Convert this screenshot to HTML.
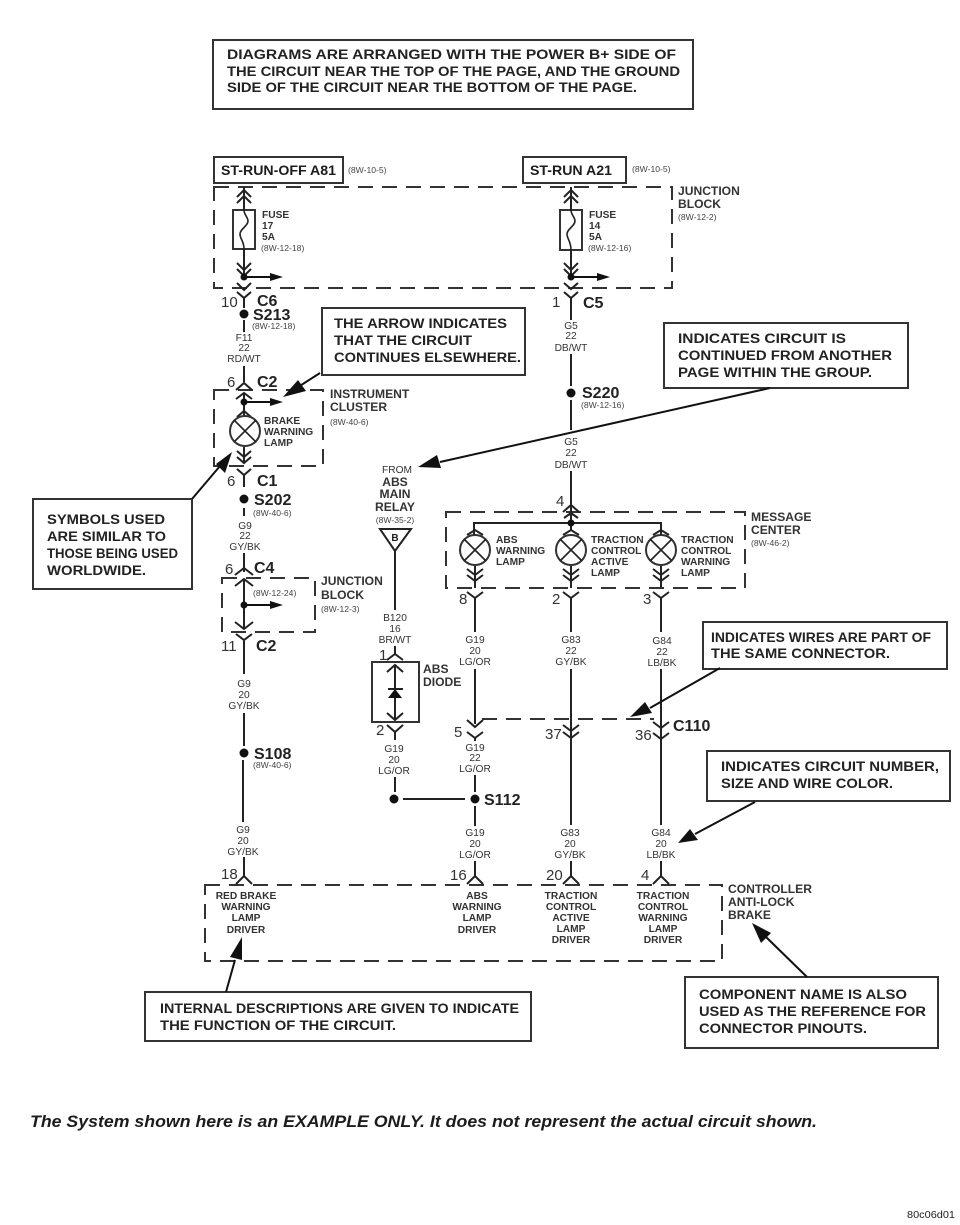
<!DOCTYPE html>
<html><head><meta charset="utf-8"><style>
html,body{margin:0;padding:0;background:#fff}
svg{display:block}
text{font-family:"Liberation Sans",sans-serif;fill:#1c1c1c}
.b{font-weight:bold}
.c{font-size:14.2px;font-weight:bold;fill:#222}
.s{font-size:8.6px;fill:#444}
.w{font-size:10.2px;text-anchor:middle;fill:#333}
.l{font-size:10.2px;font-weight:bold;fill:#333}
.m{text-anchor:middle}
.n{font-size:15px;fill:#333}
.cn{font-size:16px;font-weight:bold;fill:#222}
.t{font-size:12.1px;font-weight:bold;fill:#333}
.k{fill:none;stroke:#222;stroke-width:2}
.f{fill:none;stroke:#222;stroke-width:1.6}
.d{fill:none;stroke:#333;stroke-width:2;stroke-dasharray:15 9}
.x{fill:#fff;stroke:#333;stroke-width:2}
.a{fill:none;stroke:#111;stroke-width:2}
</style></head><body>
<svg width="960" height="1225" viewBox="0 0 960 1225" xmlns="http://www.w3.org/2000/svg">
<!-- callout boxes -->
<rect class="x" x="213" y="40" width="480" height="69"/>
<text class="c" x="227" y="59" textLength="449" lengthAdjust="spacingAndGlyphs">DIAGRAMS ARE ARRANGED WITH THE POWER B+ SIDE OF</text>
<text class="c" x="227" y="76" textLength="453" lengthAdjust="spacingAndGlyphs">THE CIRCUIT NEAR THE TOP OF THE PAGE, AND THE GROUND</text>
<text class="c" x="227" y="92" textLength="410" lengthAdjust="spacingAndGlyphs">SIDE OF THE CIRCUIT NEAR THE BOTTOM OF THE PAGE.</text>

<rect class="x" x="214" y="157" width="129" height="26"/>
<text x="221" y="175" font-size="14" class="b" textLength="115" lengthAdjust="spacingAndGlyphs">ST-RUN-OFF A81</text>
<rect class="x" x="523" y="157" width="103" height="26"/>
<text x="530" y="175" font-size="14" class="b" textLength="82" lengthAdjust="spacingAndGlyphs">ST-RUN A21</text>
<text class="s" x="348" y="173">(8W-10-5)</text>
<text class="s" x="632" y="172">(8W-10-5)</text>

<!-- dashed blocks -->
<rect class="d" x="214" y="187" width="458" height="101"/>
<rect class="d" x="214" y="390" width="109" height="76"/>
<rect class="d" x="222" y="578" width="93" height="54"/>
<rect class="d" x="446" y="512" width="299" height="76"/>
<rect class="d" x="205" y="885" width="517" height="76"/>
<path d="M482 719H654" class="d"/>

<text class="t" x="678" y="195">JUNCTION</text><text class="t" x="678" y="208">BLOCK</text><text class="s" x="678" y="220">(8W-12-2)</text>
<text class="t" x="330" y="398">INSTRUMENT</text><text class="t" x="330" y="411">CLUSTER</text><text class="s" x="330" y="425">(8W-40-6)</text>
<text class="t" x="751" y="521">MESSAGE</text><text class="t" x="751" y="534">CENTER</text><text class="s" x="751" y="546">(8W-46-2)</text>
<text class="t" x="321" y="585">JUNCTION</text><text class="t" x="321" y="599">BLOCK</text><text class="s" x="321" y="612">(8W-12-3)</text>
<text class="s" x="253" y="596">(8W-12-24)</text>
<text class="t" x="728" y="893">CONTROLLER</text><text class="t" x="728" y="906">ANTI-LOCK</text><text class="t" x="728" y="919">BRAKE</text>

<!-- left column wires -->
<path class="k" d="M244 187V278M237 197L244 190L251 197M237 203L244 196L251 203
M237 263L244 270L251 263M237 269L244 276L251 269M237 283L244 290L251 283
M237 292L244 298L251 292M244 298V308M244 320V332M244 366V382
M236 390L244 383L252 390M236 399L244 393L252 399M244 393V416M237 417L244 411L251 417
M244 447V463M237 451L244 457L251 451M237 457L244 463L251 457M237 469L244 475L251 469M244 475V487M244 508V516
M244 553V572M235 575L244 568L253 575M235 586L244 579L253 586M244 579V629M235 622L244 629L253 622M236 634L244 640L252 634M244 640V674M244 713V746M243 760V822M244 857V876M236 884L244 876L252 884"/>
<rect class="x" x="233" y="210" width="22" height="39"/>
<path class="f" d="M244 210c0 5 4 7 4 11c0 5-8 8-8 13c0 5 4 7 4 15"/>
<path class="k" d="M244 187V210M244 249V278"/>
<circle cx="244" cy="277" r="3.5" fill="#111"/><path class="a" d="M244 277H270"/><path d="M270 273L283 277L270 281Z" fill="#111"/>
<circle cx="244" cy="402" r="3.5" fill="#111"/><path class="a" d="M244 402H270"/><path d="M270 398L283 402L270 406Z" fill="#111"/>
<circle class="x" cx="245" cy="431" r="15"/><path class="f" d="M234 420L256 442M256 420L234 442"/>
<circle cx="244" cy="605" r="3.5" fill="#111"/><path class="a" d="M244 605H270"/><path d="M270 601L283 605L270 609Z" fill="#111"/>
<circle cx="244" cy="314" r="4.5" fill="#111"/><circle cx="244" cy="499" r="4.5" fill="#111"/><circle cx="244" cy="753" r="4.5" fill="#111"/>

<text class="l" x="262" y="218">FUSE</text><text class="l" x="262" y="229">17</text><text class="l" x="262" y="240">5A</text><text class="s" x="261" y="251">(8W-12-18)</text>
<text class="n" x="221" y="307">10</text><text class="cn" x="257" y="306">C6</text>
<text class="cn" x="253" y="320">S213</text><text class="s" x="252" y="329">(8W-12-18)</text>
<text class="w" x="244" y="341">F11</text><text class="w" x="244" y="351">22</text><text class="w" x="244" y="362">RD/WT</text>
<text class="n" x="227" y="387">6</text><text class="cn" x="257" y="387">C2</text>
<text class="l" x="264" y="424">BRAKE</text><text class="l" x="264" y="435">WARNING</text><text class="l" x="264" y="446">LAMP</text>
<text class="n" x="227" y="486">6</text><text class="cn" x="257" y="486">C1</text>
<text class="cn" x="254" y="505">S202</text><text class="s" x="253" y="516">(8W-40-6)</text>
<text class="w" x="245" y="529">G9</text><text class="w" x="245" y="539">22</text><text class="w" x="245" y="550">GY/BK</text>
<text class="n" x="225" y="574">6</text><text class="cn" x="254" y="573">C4</text>
<text class="n" x="221" y="651">11</text><text class="cn" x="256" y="651">C2</text>
<text class="w" x="244" y="687">G9</text><text class="w" x="244" y="698">20</text><text class="w" x="244" y="709">GY/BK</text>
<text class="cn" x="254" y="759">S108</text><text class="s" x="253" y="768">(8W-40-6)</text>
<text class="w" x="243" y="833">G9</text><text class="w" x="243" y="844">20</text><text class="w" x="243" y="855">GY/BK</text>
<text class="n" x="221" y="879">18</text>

<!-- right fuse column -->
<path class="k" d="M571 187V278M564 197L571 190L578 197M564 203L571 196L578 203
M564 263L571 270L578 263M564 269L571 276L578 269M564 283L571 289L578 283M564 292L571 298L578 292M571 298V320M571 354V386M571 400V430M571 471V505
M563 512L571 505L579 512M564 518L571 513L578 518M571 505V530"/>
<rect class="x" x="560" y="210" width="22" height="40"/>
<path class="k" d="M571 187V210M571 250V278"/>
<path class="f" d="M571 210c0 5 4 7 4 11c0 5-8 8-8 13c0 5 4 7 4 16"/>
<circle cx="571" cy="277" r="3.5" fill="#111"/><path class="a" d="M571 277H597"/><path d="M597 273L610 277L597 281Z" fill="#111"/>
<circle cx="571" cy="393" r="4.5" fill="#111"/>
<text class="l" x="589" y="218">FUSE</text><text class="l" x="589" y="229">14</text><text class="l" x="589" y="240">5A</text><text class="s" x="588" y="251">(8W-12-16)</text>
<text class="n" x="552" y="307">1</text><text class="cn" x="583" y="308">C5</text>
<text class="w" x="571" y="329">G5</text><text class="w" x="571" y="339">22</text><text class="w" x="571" y="351">DB/WT</text>
<text class="cn" x="582" y="398">S220</text><text class="s" x="581" y="408">(8W-12-16)</text>
<text class="w" x="571" y="445">G5</text><text class="w" x="571" y="456">22</text><text class="w" x="571" y="468">DB/WT</text>
<text class="n" x="556" y="506">4</text>

<!-- message center -->
<path class="k" d="M474 537V523H661V537"/>
<circle cx="571" cy="523" r="3.5" fill="#111"/>
<path class="k" d="M467 535L475 530L483 535M563 535L571 530L579 535M653 535L661 530L669 535"/>
<circle class="x" cx="475" cy="550" r="15"/><path class="f" d="M464 539L486 561M486 539L464 561"/>
<circle class="x" cx="571" cy="550" r="15"/><path class="f" d="M560 539L582 561M582 539L560 561"/>
<circle class="x" cx="661" cy="550" r="15"/><path class="f" d="M650 539L672 561M672 539L650 561"/>
<path class="k" d="M475 566V588M467 569L475 575L483 569M467 575L475 581L483 575M467 592L475 598L483 592M475 598V632M475 669V724M467 720L475 727L483 720M467 732L475 738L483 732M475 738V741
M571 566V588M563 569L571 575L579 569M563 575L571 581L579 575M563 592L571 598L579 592M571 598V632M571 669V825M563 725L571 731L579 725M563 732L571 738L579 732
M661 566V588M653 569L661 575L669 569M653 575L661 581L669 575M653 592L661 598L669 592M661 598V632M661 669V825M653 722L661 728L669 722M653 733L661 739L669 733
M475 775V792M475 806V826M475 861V876M467 884L475 876L483 884M571 861V876M563 884L571 876L579 884M661 861V876M653 884L661 876L669 884"/>
<text class="l" x="496" y="543">ABS</text><text class="l" x="496" y="554">WARNING</text><text class="l" x="496" y="565">LAMP</text>
<text class="l" x="591" y="543">TRACTION</text><text class="l" x="591" y="554">CONTROL</text><text class="l" x="591" y="565">ACTIVE</text><text class="l" x="591" y="576">LAMP</text>
<text class="l" x="681" y="543">TRACTION</text><text class="l" x="681" y="554">CONTROL</text><text class="l" x="681" y="565">WARNING</text><text class="l" x="681" y="576">LAMP</text>
<text class="n" x="459" y="604">8</text><text class="n" x="552" y="604">2</text><text class="n" x="643" y="604">3</text>
<text class="w" x="475" y="643">G19</text><text class="w" x="475" y="654">20</text><text class="w" x="475" y="665">LG/OR</text>
<text class="w" x="571" y="643">G83</text><text class="w" x="571" y="654">22</text><text class="w" x="571" y="665">GY/BK</text>
<text class="w" x="662" y="644">G84</text><text class="w" x="662" y="655">22</text><text class="w" x="662" y="666">LB/BK</text>
<text class="n" x="454" y="737">5</text><text class="n" x="545" y="739">37</text><text class="n" x="635" y="740">36</text>
<text class="cn" x="673" y="731">C110</text>
<text class="w" x="475" y="751">G19</text><text class="w" x="475" y="761">22</text><text class="w" x="475" y="772">LG/OR</text>
<text class="cn" x="484" y="805">S112</text>
<text class="w" x="475" y="836">G19</text><text class="w" x="475" y="847">20</text><text class="w" x="475" y="858">LG/OR</text>
<text class="w" x="570" y="836">G83</text><text class="w" x="570" y="847">20</text><text class="w" x="570" y="858">GY/BK</text>
<text class="w" x="661" y="836">G84</text><text class="w" x="661" y="847">20</text><text class="w" x="661" y="858">LB/BK</text>
<text class="n" x="450" y="880">16</text><text class="n" x="546" y="880">20</text><text class="n" x="641" y="880">4</text>

<!-- ABS column -->
<text class="w" x="397" y="473">FROM</text>
<text class="t m" x="395" y="486">ABS</text><text class="t m" x="395" y="498">MAIN</text><text class="t m" x="395" y="511">RELAY</text>
<text class="s m" x="395" y="523">(8W-35-2)</text>
<path class="k" d="M380 529H411L395 551Z"/>
<text class="b m" x="395" y="541" font-size="10">B</text>
<path class="k" d="M395 551V610M395 646V655M387 660L395 654L403 660"/>
<text class="w" x="395" y="621">B120</text><text class="w" x="395" y="632">16</text><text class="w" x="395" y="643">BR/WT</text>
<text class="n" x="379" y="660">1</text>
<rect class="x" x="372" y="662" width="47" height="60"/>
<path class="k" d="M395 665V720M387 672L395 665L403 672M387 713L395 720L403 713M388 689H403M387 725L395 732L403 725M395 732V740"/>
<path d="M395 689L388 698H402Z" fill="#111"/>
<text class="t" x="423" y="673">ABS</text><text class="t" x="423" y="686">DIODE</text>
<text class="n" x="376" y="735">2</text>
<text class="w" x="394" y="752">G19</text><text class="w" x="394" y="763">20</text><text class="w" x="394" y="774">LG/OR</text>
<path class="k" d="M395 777V792M403 799H465"/>
<circle cx="394" cy="799" r="4.5" fill="#111"/><circle cx="475" cy="799" r="4.5" fill="#111"/>

<!-- controller texts -->
<text class="l m" x="246" y="899">RED BRAKE</text><text class="l m" x="246" y="910">WARNING</text><text class="l m" x="246" y="921">LAMP</text><text class="l m" x="246" y="933">DRIVER</text>
<text class="l m" x="477" y="899">ABS</text><text class="l m" x="477" y="910">WARNING</text><text class="l m" x="477" y="921">LAMP</text><text class="l m" x="477" y="933">DRIVER</text>
<text class="l m" x="571" y="899">TRACTION</text><text class="l m" x="571" y="910">CONTROL</text><text class="l m" x="571" y="921">ACTIVE</text><text class="l m" x="571" y="932">LAMP</text><text class="l m" x="571" y="943">DRIVER</text>
<text class="l m" x="663" y="899">TRACTION</text><text class="l m" x="663" y="910">CONTROL</text><text class="l m" x="663" y="921">WARNING</text><text class="l m" x="663" y="932">LAMP</text><text class="l m" x="663" y="943">DRIVER</text>

<!-- callouts -->
<rect class="x" x="322" y="308" width="203" height="67"/>
<text class="c" x="334" y="328" textLength="173" lengthAdjust="spacingAndGlyphs">THE ARROW INDICATES</text>
<text class="c" x="334" y="345" textLength="138" lengthAdjust="spacingAndGlyphs">THAT THE CIRCUIT</text>
<text class="c" x="334" y="362" textLength="187" lengthAdjust="spacingAndGlyphs">CONTINUES ELSEWHERE.</text>
<rect class="x" x="664" y="323" width="244" height="65"/>
<text class="c" x="678" y="343" textLength="168" lengthAdjust="spacingAndGlyphs">INDICATES CIRCUIT IS</text>
<text class="c" x="678" y="360" textLength="214" lengthAdjust="spacingAndGlyphs">CONTINUED FROM ANOTHER</text>
<text class="c" x="678" y="377" textLength="194" lengthAdjust="spacingAndGlyphs">PAGE WITHIN THE GROUP.</text>
<rect class="x" x="33" y="499" width="159" height="90"/>
<text class="c" x="47" y="524" textLength="118" lengthAdjust="spacingAndGlyphs">SYMBOLS USED</text>
<text class="c" x="47" y="541" textLength="119" lengthAdjust="spacingAndGlyphs">ARE SIMILAR TO</text>
<text class="c" x="47" y="558" textLength="131" lengthAdjust="spacingAndGlyphs">THOSE BEING USED</text>
<text class="c" x="47" y="575" textLength="99" lengthAdjust="spacingAndGlyphs">WORLDWIDE.</text>
<rect class="x" x="703" y="622" width="244" height="47"/>
<text class="c" x="711" y="642" textLength="220" lengthAdjust="spacingAndGlyphs">INDICATES WIRES ARE PART OF</text>
<text class="c" x="711" y="658" textLength="179" lengthAdjust="spacingAndGlyphs">THE SAME CONNECTOR.</text>
<rect class="x" x="707" y="751" width="243" height="50"/>
<text class="c" x="721" y="771" textLength="218" lengthAdjust="spacingAndGlyphs">INDICATES CIRCUIT NUMBER,</text>
<text class="c" x="721" y="788" textLength="172" lengthAdjust="spacingAndGlyphs">SIZE AND WIRE COLOR.</text>
<rect class="x" x="145" y="992" width="386" height="49"/>
<text class="c" x="160" y="1013" textLength="359" lengthAdjust="spacingAndGlyphs">INTERNAL DESCRIPTIONS ARE GIVEN TO INDICATE</text>
<text class="c" x="160" y="1030" textLength="236" lengthAdjust="spacingAndGlyphs">THE FUNCTION OF THE CIRCUIT.</text>
<rect class="x" x="685" y="977" width="253" height="71"/>
<text class="c" x="699" y="999" textLength="208" lengthAdjust="spacingAndGlyphs">COMPONENT NAME IS ALSO</text>
<text class="c" x="699" y="1016" textLength="227" lengthAdjust="spacingAndGlyphs">USED AS THE REFERENCE FOR</text>
<text class="c" x="699" y="1033" textLength="168" lengthAdjust="spacingAndGlyphs">CONNECTOR PINOUTS.</text>

<!-- pointer arrows -->
<path class="a" d="M320 373L295 389M770 388L440 462M192 499L220 466M720 668L650 708M755 802L695 834M226 992L235 960M807 977L765 936"/>
<path d="M283 397L298 380L306 391Z" fill="#111"/>
<path d="M418 467L437 455L441 468Z" fill="#111"/>
<path d="M232 452L216 464L225 473Z" fill="#111"/>
<path d="M630 717L645 702L652 713Z" fill="#111"/>
<path d="M678 843L690 829L698 840Z" fill="#111"/>
<path d="M242 937L230 957L242 960Z" fill="#111"/>
<path d="M752 923L771 933L761 943Z" fill="#111"/>

<text x="30" y="1127" font-size="17" font-weight="bold" font-style="italic" textLength="787" lengthAdjust="spacingAndGlyphs" fill="#222">The System shown here is an EXAMPLE ONLY. It does not represent the actual circuit shown.</text>
<text x="907" y="1218" font-size="10.4" fill="#555" textLength="48" lengthAdjust="spacingAndGlyphs">80c06d01</text>
</svg>
</body></html>
